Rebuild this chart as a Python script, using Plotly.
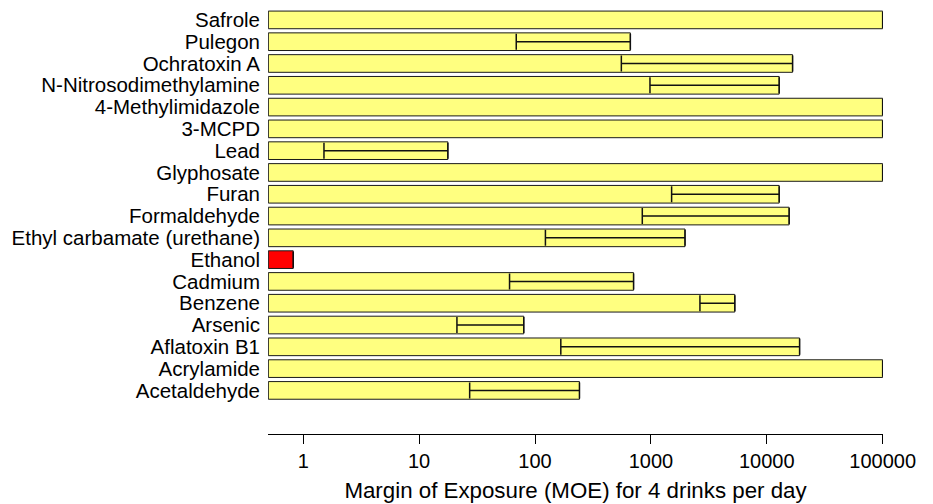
import plotly.graph_objects as go

categories = ["Acetaldehyde", "Acrylamide", "Aflatoxin B1", "Arsenic", "Benzene",
              "Cadmium", "Ethanol", "Ethyl carbamate (urethane)", "Formaldehyde",
              "Furan", "Glyphosate", "Lead", "3-MCPD", "4-Methylimidazole",
              "N-Nitrosodimethylamine", "Ochratoxin A", "Pulegon", "Safrole"]
moe_high = [242, 100000, 19200, 80, 5300, 709, 0.82, 1970, 15600,
            12800, 100000, 17.7, 100000, 100000, 12800, 16700, 665, 100000]
moe_low = [27.3, None, 167, 21.2, 2650, 60.3, None, 123, 843,
           1510, None, 1.51, None, None, 982, 556, 68.9, None]
tick_vals = [1, 10, 100, 1000, 10000, 100000]
tick_text = ["1", "10", "100", "1000", "10000", "100000"]

BASE = 0.5
FONT = "Liberation Sans, Arial, sans-serif"

colors = ["#FF0000" if c == "Ethanol" else "#FFFF80" for c in categories]
lengths = [h - BASE for h in moe_high]
err_minus = [(h - l) if l is not None else None for h, l in zip(moe_high, moe_low)]
err_plus = [0 if l is not None else None for l in moe_low]

fig = go.Figure()
fig.add_trace(go.Bar(
    y=categories, x=lengths, base=BASE, orientation="h",
    marker=dict(color=colors, line=dict(color="#1a1a1a", width=1)),
    hoverinfo="skip", showlegend=False,
))
fig.add_trace(go.Scatter(
    y=categories, x=moe_high, mode="markers",
    marker=dict(size=1, opacity=0),
    error_x=dict(type="data", symmetric=False, array=err_plus, arrayminus=err_minus,
                 color="#111111", thickness=1.5, width=8),
    hoverinfo="skip", showlegend=False,
))

# page body adds an 8px offset; the figure is sized to fit the window
fig.update_layout(
    width=925, height=496, autosize=False,
    margin=dict(l=260, r=50, t=1, b=70),
    plot_bgcolor="white", paper_bgcolor="white",
    bargap=0.19,
    font=dict(family=FONT, size=20, color="black"),
)
fig.update_xaxes(
    type="log", range=[-0.304, 5.003],
    tickvals=tick_vals, ticktext=tick_text,
    showline=True, linecolor="black", linewidth=1.3,
    ticks="outside", ticklen=9, tickwidth=1.3, tickcolor="black",
    showgrid=False, zeroline=False,
    tickfont=dict(size=20),
    title=dict(text="Margin of Exposure (MOE) for 4 drinks per day",
               font=dict(size=22.3), standoff=11),
)
fig.update_yaxes(
    type="category", categoryorder="array", categoryarray=categories,
    tickmode="array", tickvals=categories, ticktext=categories,
    range=[-2, 17.5],
    showline=False, showgrid=False, zeroline=False, ticks="",
    ticklabelstandoff=7,
    tickfont=dict(size=20.5),
)

fig.write_html("out.html")
